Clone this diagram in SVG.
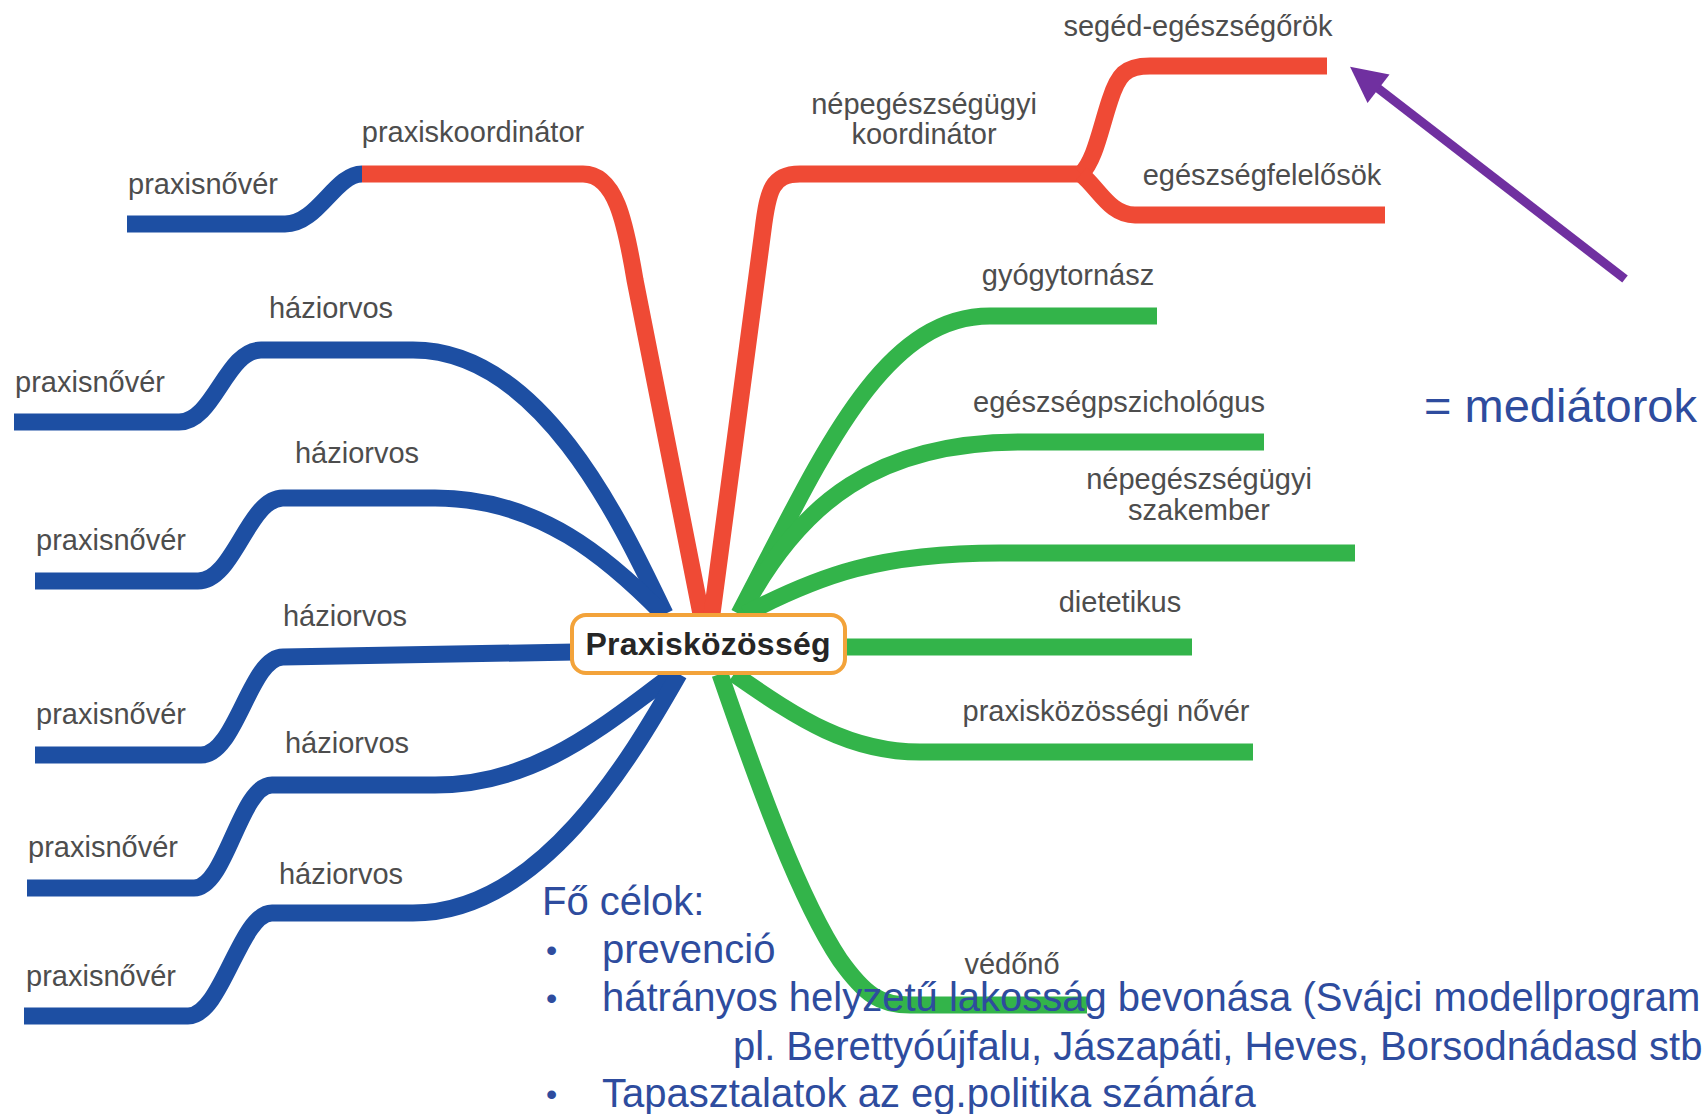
<svg xmlns="http://www.w3.org/2000/svg" width="1704" height="1114" viewBox="0 0 1704 1114">
<style>
.br{fill:none;stroke-width:17;stroke-linecap:butt;stroke-linejoin:round}
.b{stroke:#1d4fa3}
.r{stroke:#ef4a35}
.g{stroke:#33b44a}
.lbl{font-family:"Liberation Sans",Arial,sans-serif;font-size:29px;fill:#4d4d4d;text-anchor:middle}
.txt{font-family:"Liberation Sans",Arial,sans-serif;font-size:40px;fill:#2e4c9e}
.big{font-family:"Liberation Sans",Arial,sans-serif;font-size:47px;fill:#2e4c9e}
.bul{font-family:"Liberation Sans",Arial,sans-serif;font-size:32px;fill:#2e4c9e}
</style>
<defs>
<marker id="ah" viewBox="0 0 10 10" refX="4.4" refY="5" markerWidth="4.2" markerHeight="4" markerUnits="strokeWidth" orient="auto">
<path d="M0,0 L10,5 L0,10 z" fill="#7030a0"/>
</marker>
</defs>
<rect width="1704" height="1114" fill="#ffffff"/>
<g id="connectors">
<!-- red -->
<path class="br r" d="M362,174 H583 C615,174 625,220 635,280 L701,614"/>
<path class="br r" d="M712,614 L763,230 C768,190 772,174 800,174 H1081"/>
<path class="br r" d="M1081,174 C1095,160 1100,130 1110,100 C1118,75 1125,66 1150,66 H1327"/>
<path class="br r" d="M1081,174 C1100,190 1110,215 1135,215 H1385"/>
<!-- blue -->
<path class="br b" d="M362,174 C335,174 318,224 285,224 H127"/>
<path class="br b" d="M665,614 C620,520 540,350 413,350 H261 C226,350 214,422 179,422 H14"/>
<path class="br b" d="M663,614 C610,560 540,498 435,498 H283 C248,498 234,581 198,581 H35"/>
<path class="br b" d="M575,652 L283,657 C250,657 236,755 201,755 H35"/>
<path class="br b" d="M674,674 C610,720 540,785 435,785 H272 C240,785 226,888 194,888 H27"/>
<path class="br b" d="M679,674 C630,760 540,913 413,913 H272 C240,913 222,1016 188,1016 H24"/>
<!-- green -->
<path class="br g" d="M739,614 C820,460 880,316 990,316 H1157"/>
<path class="br g" d="M741,614 C800,500 880,442 1021,442 H1264"/>
<path class="br g" d="M745,614 C820,575 880,553 1000,553 H1355"/>
<path class="br g" d="M840,647 H1192"/>
<path class="br g" d="M734,674 C800,720 850,752 920,752 H1253"/>
<path class="br g" d="M720,674 C760,790 800,900 840,960 C865,995 880,1005 910,1005 H1087"/>
<!-- arrow -->
<line x1="1625" y1="279" x2="1366" y2="79" stroke="#7030a0" stroke-width="9" marker-end="url(#ah)"/>
</g>
<g id="center">
<rect x="572" y="615" width="273" height="58" rx="14" fill="#ffffff" stroke="#f3a33a" stroke-width="4"/>
<text x="708" y="655" font-family="'Liberation Sans',Arial,sans-serif" font-size="32" font-weight="bold" fill="#262626" text-anchor="middle" textLength="245" lengthAdjust="spacing">Praxisközösség</text>
</g>
<g id="n-praxiskoordinator"><text class="lbl" x="473" y="142">praxiskoordinátor</text></g>
<g id="n-praxisnover0"><text class="lbl" x="203" y="194">praxisnővér</text></g>
<g id="n-haziorvos1"><text class="lbl" x="331" y="318">háziorvos</text></g>
<g id="n-praxisnover1"><text class="lbl" x="90" y="392">praxisnővér</text></g>
<g id="n-haziorvos2"><text class="lbl" x="357" y="463">háziorvos</text></g>
<g id="n-praxisnover2"><text class="lbl" x="111" y="550">praxisnővér</text></g>
<g id="n-haziorvos3"><text class="lbl" x="345" y="626">háziorvos</text></g>
<g id="n-praxisnover3"><text class="lbl" x="111" y="724">praxisnővér</text></g>
<g id="n-haziorvos4"><text class="lbl" x="347" y="753">háziorvos</text></g>
<g id="n-praxisnover4"><text class="lbl" x="103" y="857">praxisnővér</text></g>
<g id="n-haziorvos5"><text class="lbl" x="341" y="884">háziorvos</text></g>
<g id="n-praxisnover5"><text class="lbl" x="101" y="986">praxisnővér</text></g>
<g id="n-nepeg-koord"><text class="lbl" x="924" y="114">népegészségügyi</text><text class="lbl" x="924" y="144">koordinátor</text></g>
<g id="n-seged"><text class="lbl" x="1198" y="36">segéd-egészségőrök</text></g>
<g id="n-egfelelos"><text class="lbl" x="1262" y="185">egészségfelelősök</text></g>
<g id="n-gyogytornasz"><text class="lbl" x="1068" y="285">gyógytornász</text></g>
<g id="n-egpszich"><text class="lbl" x="1119" y="412">egészségpszichológus</text></g>
<g id="n-nepeg-szak"><text class="lbl" x="1199" y="489">népegészségügyi</text><text class="lbl" x="1199" y="520">szakember</text></g>
<g id="n-dietetikus"><text class="lbl" x="1120" y="612">dietetikus</text></g>
<g id="n-pknover"><text class="lbl" x="1106" y="721">praxisközösségi nővér</text></g>
<g id="n-vedono"><text class="lbl" x="1012" y="974">védőnő</text></g>
<g id="mediatorok"><text class="big" x="1424" y="422">= mediátorok</text></g>
<g id="goals">
<text class="txt" x="542" y="915">Fő célok:</text>
<text class="bul" x="546" y="961">•</text><text class="txt" x="602" y="963">prevenció</text>
<text class="bul" x="546" y="1009">•</text><text class="txt" x="602" y="1011">hátrányos helyzetű lakosság bevonása (Svájci modellprogram</text>
<text class="txt" x="733" y="1060">pl. Berettyóújfalu, Jászapáti, Heves, Borsodnádasd stb</text>
<text class="bul" x="546" y="1105">•</text><text class="txt" x="602" y="1107">Tapasztalatok az eg.politika számára</text>
</g>
</svg>
